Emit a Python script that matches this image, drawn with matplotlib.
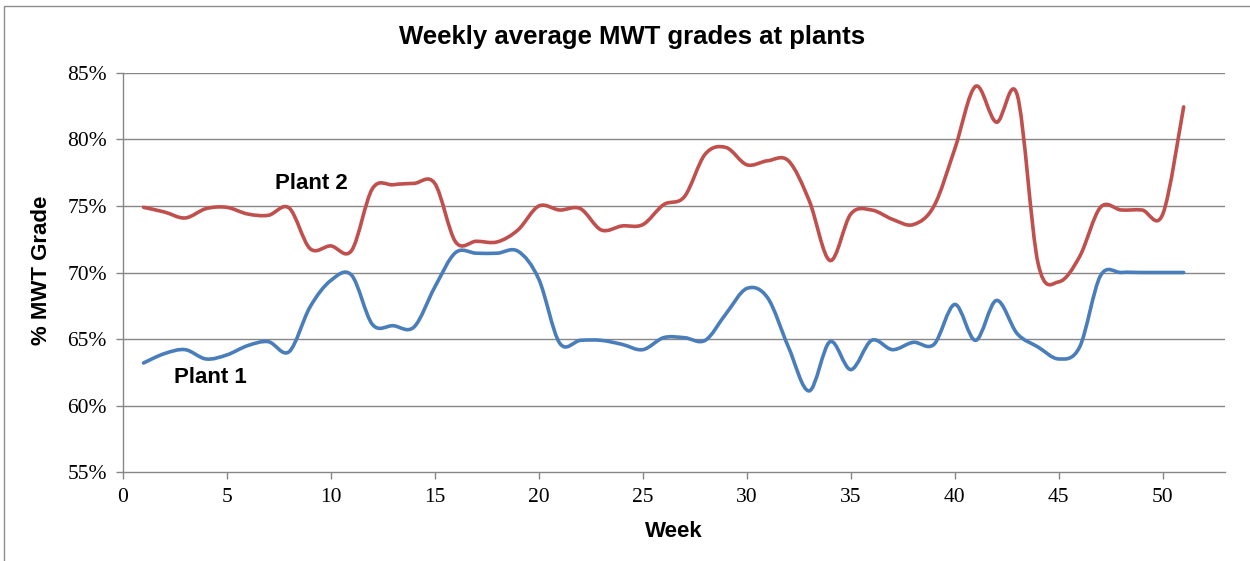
import numpy as np
from matplotlib import pyplot as plt
from matplotlib.path import Path
from matplotlib.patches import PathPatch, Rectangle
from matplotlib.ticker import FuncFormatter


weeks = np.arange(1, 52)

plant1 = [63.2, 63.9, 64.2, 63.5, 63.8, 64.5, 64.8, 64.05, 67.4, 69.4,
          69.8, 66.1, 66.0, 65.9, 68.9, 71.5, 71.45, 71.45, 71.6, 69.5,
          64.7, 64.9, 64.9, 64.6, 64.2, 65.1, 65.1, 64.9, 66.9, 68.8,
          68.1, 64.4, 61.1, 64.8, 62.7, 64.9, 64.2, 64.75, 64.6, 67.6,
          64.9, 67.9, 65.4, 64.4, 63.5, 64.4, 69.75, 70.0, 70.0, 70.0,
          70.0]

plant2 = [74.9, 74.55, 74.1, 74.8, 74.9, 74.4, 74.3, 74.85, 71.8, 72.0,
          71.65, 76.3, 76.6, 76.7, 76.7, 72.3, 72.35, 72.3, 73.2, 75.0,
          74.7, 74.8, 73.2, 73.5, 73.6, 75.1, 75.7, 78.9, 79.4, 78.1,
          78.4, 78.4, 75.4, 70.9, 74.4, 74.7, 74.0, 73.6, 75.0, 79.3,
          84.0, 81.3, 83.35, 70.7, 69.3, 71.2, 74.9, 74.7, 74.7, 74.4,
          82.45]

x_ticks = np.arange(0, 51, 5)
y_ticks = np.arange(55, 86, 5)


def smooth_path(x, y):
    # excel-like smoothed line: catmull-rom segments as cubic beziers
    p = np.column_stack([x, y]).astype(float)
    p = np.vstack([p[0], p, p[-1]])
    verts = [p[1]]
    codes = [Path.MOVETO]
    for i in range(1, len(p) - 2):
        c1 = p[i] + (p[i + 1] - p[i - 1]) / 6
        c2 = p[i + 1] - (p[i + 2] - p[i]) / 6
        verts += [c1, c2, p[i + 1]]
        codes += [Path.CURVE4] * 3
    return Path(verts, codes)


fig = plt.figure(figsize=(12.5, 5.61), dpi=100)
ax = fig.add_axes([0.0982, 0.1586, 0.882, 0.7113])

grid_col = "#878787"
for v in y_ticks[1:]:
    ax.axhline(v, color=grid_col, linewidth=1, zorder=1)

ax.add_patch(PathPatch(smooth_path(weeks, plant2), facecolor="none", edgecolor="#C0504D",
                       linewidth=2.6, capstyle="round", joinstyle="round", zorder=3))
ax.add_patch(PathPatch(smooth_path(weeks, plant1), facecolor="none", edgecolor="#4A7EBB",
                       linewidth=2.6, capstyle="round", joinstyle="round", zorder=3))

ax.set_xlim(0, 53)
ax.set_ylim(55, 85)
ax.set_xticks(x_ticks)
ax.set_yticks(y_ticks)
ax.yaxis.set_major_formatter(FuncFormatter(lambda v, _: "%d%%" % v))

for s in ["top", "right"]:
    ax.spines[s].set_visible(False)
for s in ["left", "bottom"]:
    ax.spines[s].set_color(grid_col)
    ax.spines[s].set_linewidth(1)

ax.tick_params(axis="both", direction="out", length=5, width=1, color=grid_col,
               labelsize=15.5, pad=6.5)
for lab in ax.get_xticklabels() + ax.get_yticklabels():
    lab.set_fontfamily("Liberation Serif")

ax.text(9.05, 76.7, "Plant 2", fontsize=16, fontweight="bold", family="Liberation Sans",
        ha="center", va="center")
ax.text(4.2, 62.1, "Plant 1", fontsize=16, fontweight="bold", family="Liberation Sans",
        ha="center", va="center")

fig.text(0.506, 0.934, "Weekly average MWT grades at plants", fontsize=18.5, fontweight="bold",
         family="Liberation Sans", ha="center", va="center")
fig.text(0.539, 0.053, "Week", fontsize=16, fontweight="bold", family="Liberation Sans",
         ha="center", va="center")
fig.text(0.0336, 0.519, "% MWT Grade", fontsize=16, fontweight="bold", family="Liberation Sans",
         ha="center", va="center", rotation=90)

# chart area border (right and bottom edges fall outside the picture)
fig.patches.append(Rectangle((0.003, -0.1), 1.2, 1.09, transform=fig.transFigure,
                             fill=False, edgecolor="#8c8c8c", linewidth=1))

plt.savefig("out.png", dpi=100)
